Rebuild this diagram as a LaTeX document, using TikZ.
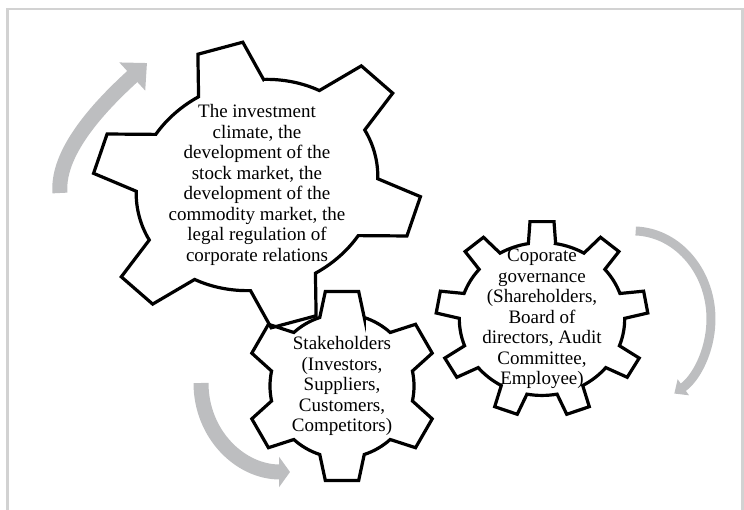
\documentclass[tikz,border=0pt]{standalone}
\usepackage{fontspec}
\setmainfont{Liberation Serif}
\usepackage{tikz}
\usetikzlibrary{arrows.meta}

\definecolor{framegray}{RGB}{210,210,210}
\definecolor{arrowgray}{RGB}{189,190,192}

% one gear outline: teeth, inner radius, half angle of tip, half angle of base
\newcommand{\gearoutline}[4]{%
  \pgfmathsetmacro{\gstep}{360/#1}
  \draw[gearline] (90-#4:#2)
    \foreach \k [evaluate=\k as \ta using 90+(\k-1)*\gstep,
                 evaluate=\k as \tb using 90+\k*\gstep-#4] in {1,...,#1}
    { -- (\ta-#3:1) -- (\ta+#3:1) -- (\ta+#4:#2)
      arc[start angle=\ta+#4, end angle=\tb, radius=#2] } -- cycle;
}

\tikzset{
  gearline/.style={black, line width=3.2pt, line join=miter},
  gearlabel/.style={align=center, inner sep=0pt, font=\fontsize{19}{20.5}\selectfont},
  bigarrow/.style={arrowgray, line width=15pt, -{Triangle[length=20pt,width=37pt]}},
  lowarrow/.style={arrowgray, line width=15pt, -{Triangle[length=11pt,width=30pt]}},
  thinarrow/.style={arrowgray, line width=9pt, -{Triangle[length=11pt,width=19pt]}}
}

\begin{document}
\begin{tikzpicture}[x=1pt, y=1pt]
        \useasboundingbox (0,0) rectangle (744,509);
        \draw[framegray, line width=2.5pt] (7.5,-5) -- (7.5,500) -- (742.5,500) -- (742.5,-5);

        % gears
        \begin{scope}[shift={(257,324)}, rotate=15, xscale=167, yscale=143]
          \gearoutline{6}{0.73}{8}{16}
        \end{scope}
        \begin{scope}[shift={(342,123)}, scale=96]
          \gearoutline{6}{0.75}{10}{18}
        \end{scope}
        \begin{scope}[shift={(542,190)}, xscale=106, yscale=98]
          \gearoutline{9}{0.78}{6.5}{9.5}
        \end{scope}

        \node[gearlabel] (climate) at (257,324) {The investment\\climate, the\\development of the\\stock market, the\\development of the\\commodity market, the\\legal regulation of\\corporate relations};
        \node[gearlabel] (stakeholders) at (342,123) {Stakeholders\\(Investors,\\Suppliers,\\Customers,\\Competitors)};
        \node[gearlabel] (governance) at (542,190) {Coporate\\governance\\(Shareholders,\\Board of\\directors, Audit\\Committee,\\Employee)};

        % turning arrows
        \draw[bigarrow] (60,316) .. controls (56,361) and (110,412) .. (147,446);
        \draw[lowarrow] (201,126) .. controls (201,75) and (240,37) .. (290,37);
        \draw[thinarrow] (635.7,278) arc[start angle=88, end angle=-58, x radius=78, y radius=88];
\end{tikzpicture}
\end{document}
